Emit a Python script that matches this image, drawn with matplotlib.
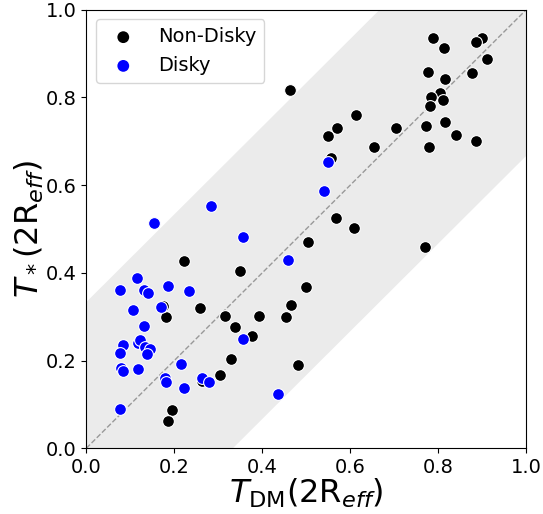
import numpy as np
import matplotlib
matplotlib.use("Agg")
import matplotlib.pyplot as plt

# Non-disky galaxies: (T_DM, T_*) measured within 2 R_eff
nondisky_tdm = [0.788, 0.813, 0.899, 0.887, 0.912, 0.776, 0.816, 0.877, 0.804, 0.783,
                0.811, 0.781, 0.772, 0.816, 0.840, 0.885, 0.779, 0.613, 0.571, 0.549,
                0.704, 0.654, 0.556, 0.567, 0.609, 0.464, 0.503, 0.771, 0.500, 0.349,
                0.466, 0.259, 0.315, 0.392, 0.455, 0.338, 0.377, 0.330, 0.482, 0.304,
                0.221, 0.180, 0.174, 0.264, 0.195, 0.186]
nondisky_tstar = [0.936, 0.912, 0.935, 0.927, 0.888, 0.858, 0.843, 0.855, 0.811, 0.800,
                  0.795, 0.781, 0.734, 0.744, 0.715, 0.701, 0.687, 0.759, 0.730, 0.712,
                  0.730, 0.688, 0.662, 0.524, 0.503, 0.818, 0.471, 0.460, 0.368, 0.405,
                  0.327, 0.319, 0.302, 0.302, 0.299, 0.276, 0.256, 0.203, 0.190, 0.166,
                  0.426, 0.299, 0.324, 0.153, 0.087, 0.061]

# Disky galaxies
disky_tdm = [0.550, 0.540, 0.284, 0.357, 0.459, 0.357, 0.263, 0.278, 0.435, 0.153,
             0.115, 0.077, 0.132, 0.141, 0.185, 0.233, 0.106, 0.169, 0.132, 0.083,
             0.118, 0.122, 0.134, 0.145, 0.138, 0.076, 0.079, 0.083, 0.117, 0.216,
             0.179, 0.180, 0.222, 0.076]
disky_tstar = [0.653, 0.587, 0.553, 0.482, 0.430, 0.248, 0.161, 0.152, 0.124, 0.513,
               0.389, 0.360, 0.360, 0.353, 0.370, 0.358, 0.315, 0.321, 0.279, 0.236,
               0.241, 0.246, 0.231, 0.227, 0.215, 0.217, 0.183, 0.176, 0.180, 0.192,
               0.161, 0.152, 0.137, 0.090]

band_halfwidth = 1.0 / 3.0

fig = plt.figure(figsize=(5.43, 5.14), dpi=100)
ax = fig.add_axes([0.159, 0.128, 0.810, 0.853])

xs = np.linspace(0, 1, 200)
ax.fill_between(xs, xs - band_halfwidth, xs + band_halfwidth,
                color="#ebebeb", linewidth=0, zorder=0)
ax.plot([0, 1], [0, 1], ls="--", color="#999999", lw=1.0, zorder=1)

ax.scatter(nondisky_tdm, nondisky_tstar, s=72, c="black",
           edgecolors="white", linewidths=0.8, label="Non-Disky", zorder=2)
ax.scatter(disky_tdm, disky_tstar, s=72, c="blue",
           edgecolors="white", linewidths=0.8, label="Disky", zorder=3)

ax.set_xlim(0, 1)
ax.set_ylim(0, 1)
ax.set_xticks([0.0, 0.2, 0.4, 0.6, 0.8, 1.0])
ax.set_yticks([0.0, 0.2, 0.4, 0.6, 0.8, 1.0])
ax.tick_params(labelsize=14)
ax.set_xlabel(r"$T_{\mathrm{DM}}(2\mathrm{R}_{eff})$", fontsize=23, labelpad=0)
ax.set_ylabel(r"$T_*(2\mathrm{R}_{eff})$", fontsize=23, labelpad=0)

leg = ax.legend(loc="upper left", fontsize=14)
for h in leg.legend_handles:
    h.set_edgecolor("none")

fig.savefig("out.png", dpi=100)
